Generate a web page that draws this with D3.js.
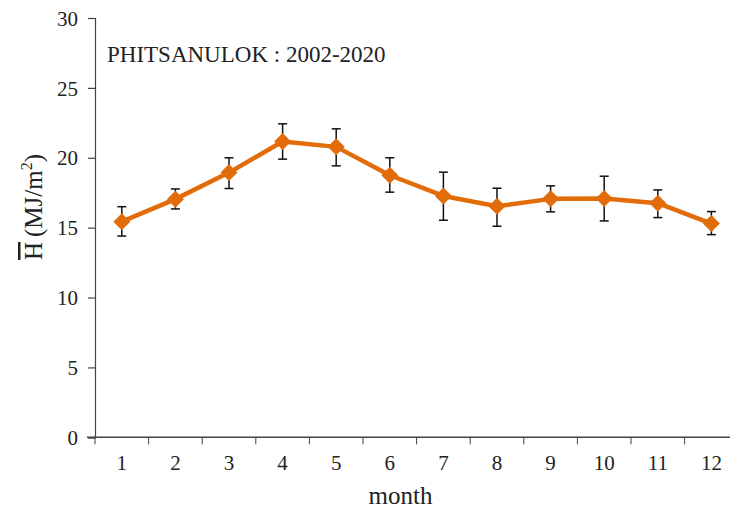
<!DOCTYPE html>
<html>
<head>
<meta charset="utf-8">
<script src="https://cdn.jsdelivr.net/npm/d3@7"></script>
<style>
  body { margin: 0; background: #fff; }
  svg text { font-family: "Liberation Serif", "Times New Roman", serif; fill: #222; }
</style>
</head>
<body>
<svg id="chart" width="730" height="511"></svg>
<script>
var months = [1, 2, 3, 4, 5, 6, 7, 8, 9, 10, 11, 12];
var meanH = [15.43, 17.04, 18.94, 21.16, 20.78, 18.75, 17.27, 16.53, 17.06, 17.08, 16.75, 15.29];
var upperH = [16.5, 17.77, 20.0, 22.43, 22.07, 20.0, 18.97, 17.82, 17.99, 18.68, 17.7, 16.15];
var lowerH = [14.4, 16.34, 17.8, 19.9, 19.42, 17.54, 15.53, 15.1, 16.13, 15.48, 15.72, 14.5];
var yTicks = [0, 5, 10, 15, 20, 25, 30];
var title = "PHITSANULOK : 2002-2020";

var data = months.map(function(m, i) {
    return { month: m, mean: meanH[i], hi: upperH[i], lo: lowerH[i] };
});

var margin = { top: 18, left: 95 },
    bandW = 53.6,
    plotH = 419.3,
    orange = "#e36c0a",
    serif = "'Liberation Serif', 'Times New Roman', serif";

var svg = d3.select("#chart").attr("font-family", serif);

var x = d3.scaleBand()
    .domain(months)
    .range([margin.left, margin.left + bandW * months.length]);

var y = d3.scaleLinear()
    .domain([0, 30])
    .range([margin.top + plotH, margin.top]);

var cx = function(d) { return x(d.month) + x.bandwidth() / 2; };

// y axis
var yAxis = svg.append("g")
    .attr("transform", "translate(" + margin.left + ",0)")
    .call(d3.axisLeft(y).tickValues(yTicks).tickSize(7).tickPadding(10));
yAxis.attr("font-family", serif);
yAxis.selectAll("text").attr("font-size", "21px").attr("dy", "0.34em");

// x axis: ticks on band edges, labels in the middle
var xAxis = svg.append("g")
    .attr("transform", "translate(0," + y(0) + ")");
xAxis.append("line")
    .attr("x1", margin.left - 8).attr("x2", 730)
    .attr("stroke", "#444").attr("stroke-width", 1.5);
xAxis.selectAll(".tk")
    .data(months)
    .enter().append("line")
    .attr("class", "tk")
    .attr("x1", d => x(d)).attr("x2", d => x(d))
    .attr("y1", 0).attr("y2", 7)
    .attr("stroke", "#444");
xAxis.selectAll(".lbl")
    .data(months)
    .enter().append("text")
    .attr("class", "lbl")
    .attr("x", d => x(d) + x.bandwidth() / 2)
    .attr("y", 33)
    .attr("text-anchor", "middle")
    .attr("font-size", "21px")
    .text(d => d);

svg.selectAll(".domain, .tick line").attr("stroke", "#444").attr("stroke-width", 1.2);

// error bars
var eb = svg.append("g").attr("class", "errbars");
eb.selectAll(".v")
    .data(data)
    .enter().append("line")
    .attr("x1", cx).attr("x2", cx)
    .attr("y1", d => y(d.hi)).attr("y2", d => y(d.lo))
    .attr("stroke", "#111").attr("stroke-width", 1.5);
["hi", "lo"].forEach(function(k) {
    eb.selectAll(".c" + k)
        .data(data)
        .enter().append("line")
        .attr("x1", d => cx(d) - 4.5).attr("x2", d => cx(d) + 4.5)
        .attr("y1", d => y(d[k])).attr("y2", d => y(d[k]))
        .attr("stroke", "#111").attr("stroke-width", 1.5);
});

// line
svg.append("path")
    .datum(data)
    .attr("fill", "none")
    .attr("stroke", orange)
    .attr("stroke-width", 4.5)
    .attr("stroke-linejoin", "round")
    .attr("d", d3.line().x(cx).y(d => y(d.mean)));

// diamond markers
svg.selectAll(".pt")
    .data(data)
    .enter().append("path")
    .attr("class", "pt")
    .attr("transform", d => "translate(" + cx(d) + "," + y(d.mean) + ")")
    .attr("d", "M0,-8.5L8.5,0L0,8.5L-8.5,0Z")
    .attr("fill", orange);

// title
svg.append("text")
    .attr("x", 107)
    .attr("y", 62)
    .attr("font-family", serif)
    .attr("font-size", "23px")
    .text(title);

// x label
svg.append("text")
    .attr("x", margin.left + bandW * 5.7)
    .attr("y", 504)
    .attr("text-anchor", "middle")
    .attr("font-size", "25px")
    .text("month");

// y label: H with overline (MJ/m²)
var yl = svg.append("text")
    .attr("transform", "translate(42,207) rotate(-90)")
    .attr("text-anchor", "middle")
    .attr("font-size", "25px");
yl.append("tspan").style("text-decoration", "overline").text("H");
yl.append("tspan").text("\u2009(MJ/m");
yl.append("tspan").attr("font-size", "16px").attr("dy", "-10").text("2");
yl.append("tspan").attr("dy", "10").text(")");
</script>
</body>
</html>
